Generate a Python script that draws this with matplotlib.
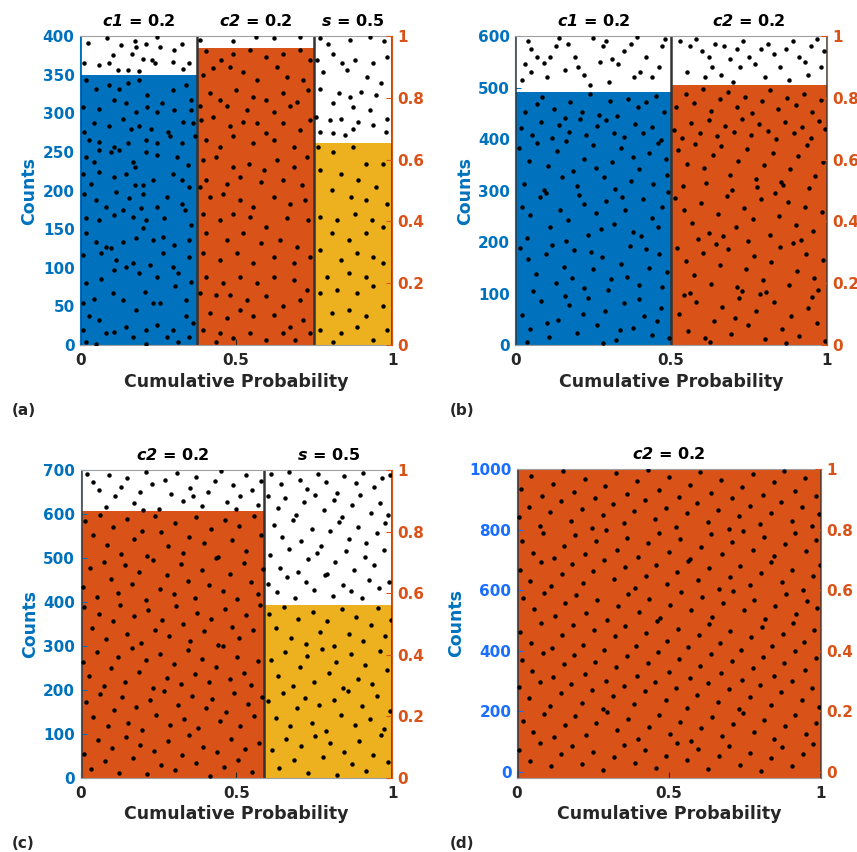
import numpy as np
import matplotlib.pyplot as plt

plt.rcParams['font.family'] = 'DejaVu Sans'
plt.rcParams['font.weight'] = 'bold'
plt.rcParams['mathtext.fontset'] = 'dejavusans'

BLUE = '#0072BD'
ORANGE = '#D95319'
YELLOW = '#EDB120'
DARK = '#262626'

# ---- data -------------------------------------------------------------
# segment edges on the cumulative probability axis, bar heights in counts
edges_a = [0, 0.375, 0.75, 1]
heights_a = [350, 385, 262]
colors_a = [BLUE, ORANGE, YELLOW]
titles_a = [r'$\mathbfit{c1}$ = 0.2', r'$\mathbfit{c2}$ = 0.2', r'$\mathbfit{s}$ = 0.5']

edges_b = [0, 0.5, 1]
heights_b = [492, 505]
colors_b = [BLUE, ORANGE]
titles_b = [r'$\mathbfit{c1}$ = 0.2', r'$\mathbfit{c2}$ = 0.2']

edges_c = [0, 0.59, 1]
heights_c = [606, 393]
colors_c = [ORANGE, YELLOW]
titles_c = [r'$\mathbfit{c2}$ = 0.2', r'$\mathbfit{s}$ = 0.5']

edges_d = [0, 1]
heights_d = [1000]
colors_d = [ORANGE]
titles_d = [r'$\mathbfit{c2}$ = 0.2']

dots_a = [
    (.025, 391), (.086, 398), (.13, 388), (.175, 394), (.18, 386), (.21, 390), (.23, 369), (.20, 370),
    (.255, 386), (.30, 382), (.325, 390), (.105, 375), (.094, 365), (.062, 362), (.014, 365), (.12, 356),
    (.153, 356), (.19, 355), (.298, 367), (.33, 357), (.35, 365), (.24, 365), (.165, 377), (.245, 399),
    (.385, 395), (.565, 399), (.62, 398), (.705, 399), (.49, 393),
    (.77, 397), (.795, 390), (.865, 395), (.93, 399), (.975, 393), (.76, 369), (.81, 377), (.84, 365),
    (.88, 369), (.94, 365), (.985, 373), (.78, 354), (.855, 356), (.92, 347), (.965, 339), (.77, 332),
    (.83, 326), (.865, 321), (.90, 328), (.95, 324), (.81, 313), (.875, 308), (.93, 304), (.985, 293),
    (.755, 295), (.80, 291), (.835, 293), (.89, 289), (.94, 285), (.77, 276), (.81, 274), (.85, 272),
    (.98, 276), (.875, 280),
    (.02, 343), (.05, 332), (.094, 337), (.126, 332), (.153, 339), (.19, 343), (.215, 324), (.263, 313),
    (.298, 330), (.34, 337), (.357, 317), (.009, 308), (.062, 306), (.11, 317), (.148, 313), (.18, 302),
    (.245, 302), (.30, 304), (.357, 304), (.213, 308),
    (.014, 276), (.046, 287), (.094, 283), (.137, 293), (.164, 280), (.19, 283), (.228, 280), (.282, 276),
    (.33, 289), (.362, 287), (.03, 265), (.062, 263), (.11, 257), (.153, 261), (.212, 265), (.245, 261),
    (.287, 270), (.325, 261), (.367, 270), (.062, 252),
    (.02, 244), (.046, 237), (.10, 250), (.126, 252), (.17, 237), (.212, 250), (.245, 246), (.309, 244),
    (.346, 233), (.009, 222), (.062, 224), (.11, 218), (.148, 222), (.175, 231), (.234, 214), (.298, 222),
    (.325, 214), (.035, 209), (.175, 207), (.20, 207), (.35, 205),
    (.014, 196), (.05, 188), (.116, 198), (.157, 190), (.20, 196), (.277, 192), (.325, 183), (.084, 179),
    (.137, 175), (.196, 177), (.245, 179), (.335, 175), (.02, 164), (.062, 162), (.11, 168), (.17, 166),
    (.212, 162), (.27, 164), (.357, 155), (.20, 151),
    (.02, 145), (.05, 134), (.10, 125), (.137, 134), (.18, 138), (.234, 136), (.265, 140), (.30, 129),
    (.35, 136), (.009, 116), (.068, 119), (.116, 110), (.17, 106), (.223, 104), (.265, 119), (.298, 101),
    (.35, 114), (.084, 127),
    (.02, 80), (.068, 86), (.11, 97), (.148, 101), (.19, 93), (.245, 88), (.314, 93), (.357, 82),
    (.046, 60), (.105, 67), (.137, 58), (.207, 69), (.255, 54), (.303, 76), (.34, 58), (.009, 54), (.234, 54),
    (.03, 37), (.062, 32), (.11, 17), (.148, 24), (.18, 45), (.212, 19), (.245, 26), (.277, 11),
    (.314, 4), (.34, 37), (.362, 28), (.02, 4), (.05, 2), (.084, 15), (.17, 11), (.212, 2), (.298, 19),
    (.35, 11), (.009, 19),
    (.405, 380), (.45, 369), (.49, 377), (.545, 382), (.597, 373), (.65, 377), (.705, 382), (.737, 369),
    (.394, 350), (.427, 358), (.48, 360), (.523, 354), (.566, 343), (.63, 360), (.663, 347), (.716, 343),
    (.415, 326), (.448, 317), (.50, 330), (.555, 321), (.597, 317), (.65, 326), (.695, 315), (.732, 330),
    (.383, 309), (.47, 309), (.534, 304), (.62, 302), (.673, 309),
    (.389, 291), (.427, 295), (.48, 283), (.523, 289), (.566, 287), (.597, 274), (.65, 287), (.705, 278),
    (.737, 291), (.405, 265), (.448, 257), (.49, 270), (.555, 261), (.62, 265), (.684, 257), (.394, 239),
    (.437, 244), (.49, 231), (.54, 235), (.59, 227), (.63, 239), (.684, 231), (.727, 244), (.405, 214),
    (.47, 209), (.513, 218), (.58, 211), (.65, 214), (.71, 207), (.383, 205),
    (.415, 192), (.457, 196), (.513, 188), (.555, 179), (.62, 192), (.673, 183), (.72, 188), (.394, 170),
    (.448, 162), (.49, 170), (.545, 166), (.597, 153), (.663, 164), (.732, 162), (.405, 145), (.47, 136),
    (.523, 145), (.58, 132), (.64, 136), (.695, 127), (.394, 119), (.448, 110), (.502, 119), (.555, 106),
    (.62, 114), (.684, 106), (.737, 114),
    (.405, 88), (.457, 80), (.513, 88), (.566, 80), (.62, 88), (.684, 84), (.727, 71), (.383, 67),
    (.437, 65), (.48, 65), (.534, 58), (.597, 63), (.65, 50), (.705, 58), (.415, 41), (.47, 35),
    (.513, 45), (.555, 37), (.62, 39), (.673, 24), (.716, 32), (.394, 19), (.448, 15), (.49, 9),
    (.545, 15), (.597, 6), (.65, 15), (.69, 6), (.737, 15), (.437, 4),
    (.764, 257), (.81, 250), (.875, 257), (.918, 235), (.97, 235), (.77, 226), (.835, 222), (.892, 214),
    (.95, 205), (.808, 201), (.867, 192), (.915, 188), (.985, 183), (.77, 166), (.825, 162), (.88, 170),
    (.935, 162), (.97, 153), (.808, 145), (.861, 136), (.915, 145), (.77, 123), (.835, 110), (.888, 119),
    (.94, 114), (.79, 88), (.861, 93), (.918, 88), (.97, 106), (.77, 67), (.825, 71), (.888, 67),
    (.94, 76), (.808, 41), (.861, 45), (.915, 37), (.97, 50), (.77, 19), (.835, 15), (.888, 24),
    (.94, 6), (.985, 19), (.81, 4),
]

dots_b = [
    (.04, 590), (.05, 575), (.07, 560), (.03, 545), (.05, 530), (.02, 515), (.09, 548), (.11, 560),
    (.13, 580), (.14, 597), (.17, 585), (.19, 560), (.20, 540), (.22, 525), (.24, 505), (.27, 550),
    (.28, 580), (.29, 590), (.31, 555), (.33, 545), (.35, 570), (.37, 585), (.39, 598), (.40, 530),
    (.42, 560), (.44, 520), (.46, 540), (.47, 580), (.48, 595), (.10, 520), (.16, 535), (.38, 520),
    (.25, 597), (.30, 510),
    (.53, 590), (.56, 580), (.58, 595), (.60, 570), (.62, 560), (.64, 585), (.67, 580), (.69, 555),
    (.71, 575), (.73, 590), (.75, 560), (.77, 545), (.79, 575), (.81, 585), (.83, 565), (.85, 540),
    (.87, 575), (.89, 590), (.91, 560), (.93, 550), (.95, 580), (.97, 595), (.99, 570), (.55, 530),
    (.61, 520), (.66, 525), (.72, 540), (.80, 520), (.88, 515), (.94, 525), (.98, 540), (.63, 540), (.70, 510),
    (.03, 452), (.07, 468), (.085, 481), (.125, 458), (.158, 441), (.176, 472), (.214, 452), (.238, 487),
    (.268, 447), (.302, 473), (.327, 444), (.361, 478), (.394, 462), (.418, 471), (.452, 484), (.476, 452),
    (.018, 421), (.052, 407), (.083, 433), (.117, 402), (.139, 428), (.172, 413), (.207, 438), (.228, 408),
    (.263, 426), (.291, 437), (.318, 412), (.347, 404), (.384, 429), (.409, 411), (.437, 424), (.468, 398),
    (.012, 382), (.043, 357), (.068, 392), (.104, 348), (.132, 377), (.163, 396), (.186, 338), (.221, 362),
    (.249, 388), (.283, 327), (.311, 356), (.338, 383), (.372, 318), (.397, 342), (.428, 372), (.459, 392),
    (.487, 331), (.027, 313), (.093, 302), (.148, 327), (.198, 308), (.258, 343), (.321, 303), (.379, 366),
    (.441, 313), (.482, 362),
    (.021, 268), (.048, 252), (.079, 287), (.112, 229), (.143, 263), (.168, 242), (.203, 291), (.232, 214),
    (.257, 256), (.292, 279), (.318, 236), (.353, 262), (.376, 219), (.408, 284), (.437, 246), (.469, 268),
    (.038, 208), (.097, 296), (.161, 203), (.219, 274), (.276, 226), (.341, 288), (.402, 211), (.457, 229),
    (.491, 298),
    (.014, 188), (.041, 167), (.066, 138), (.098, 176), (.129, 121), (.157, 152), (.188, 184), (.219, 111),
    (.248, 147), (.277, 171), (.306, 128), (.338, 158), (.367, 192), (.396, 117), (.428, 149), (.461, 177),
    (.488, 141), (.057, 104), (.118, 194), (.181, 131), (.242, 181), (.297, 106), (.359, 133), (.418, 186),
    (.472, 112),
    (.022, 58), (.047, 31), (.082, 86), (.107, 16), (.137, 49), (.172, 77), (.198, 24), (.233, 91),
    (.262, 38), (.287, 66), (.323, 9), (.348, 81), (.377, 34), (.413, 56), (.438, 19), (.467, 72),
    (.036, 6), (.102, 43), (.158, 96), (.217, 61), (.281, 4), (.337, 29), (.398, 89), (.456, 46), (.493, 14),
    (.515, 462), (.548, 488), (.572, 470), (.603, 497), (.628, 455), (.657, 478), (.684, 491), (.712, 463),
    (.738, 482), (.761, 450), (.792, 474), (.818, 496), (.843, 458), (.871, 479), (.902, 466), (.927, 487),
    (.953, 452), (.981, 475),
    (.508, 418), (.536, 402), (.563, 432), (.592, 411), (.621, 437), (.648, 405), (.673, 426), (.702, 414),
    (.729, 438), (.757, 407), (.783, 429), (.811, 416), (.838, 401), (.866, 433), (.893, 412), (.921, 424),
    (.948, 403), (.976, 436), (.993, 419),
    (.522, 378), (.551, 352), (.577, 391), (.606, 343), (.634, 369), (.661, 386), (.689, 331), (.716, 358),
    (.744, 381), (.771, 322), (.798, 349), (.826, 373), (.853, 317), (.881, 342), (.908, 367), (.936, 389),
    (.963, 329), (.989, 356), (.537, 309), (.611, 314), (.694, 302), (.777, 306), (.859, 311), (.943, 304),
    (.512, 286), (.541, 262), (.568, 237), (.597, 276), (.623, 218), (.652, 254), (.679, 289), (.708, 229),
    (.735, 266), (.763, 244), (.789, 283), (.817, 213), (.846, 251), (.874, 277), (.901, 234), (.929, 268),
    (.956, 221), (.984, 259), (.586, 206), (.667, 212), (.748, 203), (.832, 296), (.918, 204),
    (.519, 189), (.547, 163), (.574, 137), (.601, 178), (.629, 119), (.656, 155), (.683, 186), (.711, 112),
    (.739, 148), (.766, 172), (.794, 127), (.821, 161), (.849, 191), (.877, 116), (.904, 144), (.932, 176),
    (.959, 131), (.987, 166), (.561, 102), (.643, 197), (.726, 104), (.806, 103), (.891, 198), (.971, 107),
    (.526, 61), (.553, 27), (.581, 83), (.609, 14), (.636, 47), (.664, 74), (.691, 22), (.719, 92),
    (.746, 39), (.774, 66), (.802, 11), (.829, 84), (.857, 31), (.884, 57), (.912, 18), (.939, 71),
    (.967, 42), (.994, 8), (.541, 97), (.624, 5), (.704, 53), (.786, 99), (.868, 4), (.951, 93),
]

dots_c = [
    (.02, 690), (.04, 672), (.06, 655), (.09, 688), (.11, 640), (.13, 662), (.15, 682), (.17, 625),
    (.19, 650), (.21, 695), (.23, 668), (.25, 612), (.27, 678), (.29, 645), (.31, 692), (.33, 630),
    (.35, 660), (.37, 685), (.39, 618), (.41, 650), (.43, 675), (.45, 697), (.47, 628), (.49, 665),
    (.51, 640), (.53, 688), (.55, 655), (.57, 620), (.58, 675), (.08, 615), (.20, 610), (.36, 640), (.50, 612),
    (.612, 690), (.643, 668), (.668, 695), (.704, 678), (.727, 657), (.762, 691), (.788, 673), (.823, 648),
    (.846, 686), (.884, 671), (.907, 694), (.943, 662), (.968, 681), (.992, 688),
    (.603, 641), (.634, 613), (.657, 636), (.692, 598), (.718, 627), (.753, 644), (.781, 609), (.812, 632),
    (.838, 594), (.872, 621), (.898, 642), (.931, 603), (.962, 626), (.988, 597),
    (.622, 574), (.648, 548), (.683, 586), (.709, 538), (.744, 566), (.771, 528), (.801, 561), (.828, 582),
    (.862, 544), (.889, 571), (.917, 533), (.952, 556), (.978, 579),
    (.607, 506), (.641, 478), (.668, 521), (.697, 468), (.731, 497), (.758, 511), (.792, 463), (.818, 491),
    (.853, 516), (.879, 473), (.912, 502), (.941, 484), (.973, 519),
    (.601, 441), (.629, 423), (.661, 456), (.688, 408), (.723, 446), (.749, 428), (.783, 461), (.809, 414),
    (.842, 439), (.868, 424), (.903, 409), (.927, 451), (.958, 431), (.991, 446),
    (.015, 585), (.038, 552), (.061, 598), (.083, 530), (.104, 571), (.129, 510), (.148, 588), (.172, 543),
    (.196, 562), (.214, 505), (.238, 596), (.259, 558), (.281, 527), (.304, 580), (.327, 512), (.349, 547),
    (.371, 592), (.395, 534), (.418, 566), (.441, 503), (.462, 587), (.486, 541), (.509, 572), (.531, 516),
    (.556, 595), (.578, 553),
    (.008, 435), (.029, 478), (.052, 412), (.076, 491), (.097, 452), (.121, 420), (.143, 483), (.166, 441),
    (.187, 467), (.211, 404), (.233, 496), (.254, 430), (.277, 461), (.299, 419), (.322, 486), (.344, 447),
    (.366, 409), (.389, 472), (.412, 438), (.433, 499), (.457, 425), (.479, 464), (.502, 407), (.524, 489),
    (.547, 445), (.569, 418), (.585, 476),
    (.012, 388), (.035, 341), (.058, 372), (.081, 315), (.103, 356), (.126, 394), (.149, 328), (.171, 367),
    (.193, 306), (.216, 381), (.239, 337), (.262, 358), (.284, 322), (.306, 391), (.329, 349), (.352, 311),
    (.374, 376), (.396, 333), (.419, 362), (.442, 302), (.464, 385), (.487, 344), (.509, 318), (.532, 371),
    (.554, 336), (.577, 392),
    (.006, 263), (.028, 231), (.051, 287), (.074, 208), (.096, 249), (.119, 274), (.141, 219), (.164, 296),
    (.186, 241), (.209, 268), (.231, 205), (.254, 282), (.276, 227), (.299, 258), (.321, 213), (.344, 291),
    (.366, 236), (.389, 271), (.411, 217), (.434, 252), (.456, 299), (.479, 224), (.501, 276), (.524, 238),
    (.546, 211), (.569, 265),
    (.018, 172), (.041, 138), (.063, 191), (.086, 117), (.108, 155), (.131, 183), (.153, 126), (.176, 162),
    (.198, 108), (.221, 177), (.243, 143), (.266, 198), (.288, 121), (.311, 166), (.333, 134), (.356, 187),
    (.378, 113), (.401, 158), (.423, 179), (.446, 129), (.468, 151), (.491, 194), (.513, 118), (.536, 169),
    (.558, 141), (.581, 185),
    (.009, 54), (.032, 21), (.054, 87), (.077, 38), (.099, 69), (.122, 12), (.144, 93), (.167, 46),
    (.189, 76), (.212, 8), (.234, 61), (.257, 29), (.279, 84), (.302, 17), (.324, 52), (.347, 97),
    (.369, 33), (.392, 71), (.414, 5), (.437, 58), (.459, 24), (.482, 89), (.504, 41), (.527, 66),
    (.549, 14), (.572, 79),
    (.605, 372), (.628, 341), (.652, 389), (.675, 318), (.698, 361), (.722, 305), (.745, 378), (.768, 332),
    (.791, 356), (.815, 301), (.838, 384), (.861, 327), (.884, 365), (.908, 311), (.931, 348), (.954, 386),
    (.977, 322), (.995, 358),
    (.611, 268), (.634, 231), (.657, 286), (.681, 209), (.704, 252), (.727, 277), (.75, 218), (.774, 294),
    (.797, 239), (.82, 263), (.843, 204), (.867, 281), (.89, 226), (.913, 257), (.936, 213), (.96, 289),
    (.983, 245),
    (.603, 174), (.626, 136), (.649, 193), (.673, 117), (.696, 158), (.719, 181), (.742, 125), (.766, 166),
    (.789, 106), (.812, 178), (.835, 142), (.859, 197), (.882, 121), (.905, 163), (.928, 133), (.952, 186),
    (.975, 112), (.993, 152),
    (.614, 64), (.637, 23), (.66, 88), (.684, 41), (.707, 72), (.73, 11), (.753, 95), (.777, 47),
    (.80, 79), (.823, 7), (.846, 58), (.87, 31), (.893, 84), (.916, 16), (.939, 53), (.963, 97), (.986, 36),
]

dots_d = [
    (.012, 935), (.047, 978), (.083, 912), (.118, 951), (.151, 992), (.189, 925), (.222, 967), (.258, 903),
    (.291, 944), (.327, 986), (.362, 918), (.394, 959), (.431, 997), (.466, 931), (.499, 972), (.534, 908),
    (.568, 948), (.603, 989), (.637, 921), (.672, 962), (.706, 904), (.741, 941), (.775, 983), (.81, 915),
    (.844, 956), (.879, 994), (.913, 928), (.948, 969), (.982, 911),
    (.007, 842), (.041, 876), (.076, 813), (.109, 859), (.144, 894), (.179, 827), (.213, 868), (.248, 805),
    (.282, 849), (.317, 883), (.351, 821), (.386, 862), (.42, 897), (.455, 834), (.489, 871), (.524, 809),
    (.558, 853), (.593, 888), (.627, 824), (.662, 865), (.696, 802), (.731, 845), (.765, 879), (.80, 817),
    (.834, 856), (.869, 891), (.903, 829), (.938, 873), (.972, 812), (.995, 851),
    (.018, 761), (.053, 724), (.087, 789), (.122, 707), (.156, 746), (.191, 781), (.225, 718), (.26, 763),
    (.294, 798), (.329, 731), (.363, 772), (.398, 709), (.432, 754), (.467, 787), (.501, 726), (.536, 768),
    (.57, 703), (.605, 741), (.639, 784), (.674, 719), (.708, 759), (.743, 794), (.777, 733), (.812, 776),
    (.846, 712), (.881, 751), (.915, 789), (.95, 728), (.984, 766),
    (.009, 668), (.044, 631), (.078, 694), (.113, 612), (.147, 653), (.182, 687), (.216, 624), (.251, 662),
    (.285, 699), (.32, 637), (.354, 676), (.389, 608), (.423, 648), (.458, 684), (.492, 621), (.527, 659),
    (.561, 696), (.596, 633), (.63, 672), (.665, 604), (.699, 643), (.734, 681), (.768, 617), (.803, 657),
    (.837, 692), (.872, 628), (.906, 666), (.941, 601), (.975, 646), (.996, 683),
    (.021, 574), (.056, 538), (.09, 592), (.125, 516), (.159, 557), (.194, 583), (.228, 524), (.263, 566),
    (.297, 503), (.332, 547), (.366, 588), (.401, 529), (.435, 571), (.47, 509), (.504, 552), (.539, 594),
    (.573, 533), (.608, 576), (.642, 512), (.677, 558), (.711, 597), (.746, 536), (.78, 569), (.815, 506),
    (.849, 548), (.884, 586), (.918, 521), (.953, 563), (.987, 541),
    (.011, 462), (.046, 427), (.08, 491), (.115, 408), (.149, 452), (.184, 486), (.218, 419), (.253, 468),
    (.287, 403), (.322, 447), (.356, 482), (.391, 416), (.425, 458), (.46, 497), (.494, 432), (.529, 471),
    (.563, 411), (.598, 453), (.632, 489), (.667, 424), (.701, 465), (.736, 402), (.77, 444), (.805, 479),
    (.839, 414), (.874, 456), (.908, 493), (.943, 429), (.977, 469),
    (.016, 371), (.05, 334), (.085, 392), (.119, 313), (.154, 356), (.188, 387), (.223, 322), (.257, 364),
    (.292, 301), (.326, 346), (.361, 383), (.395, 318), (.43, 359), (.464, 396), (.499, 331), (.533, 374),
    (.568, 309), (.602, 351), (.637, 389), (.671, 326), (.706, 367), (.74, 304), (.775, 342), (.809, 379),
    (.844, 315), (.878, 361), (.913, 398), (.947, 337), (.982, 376),
    (.006, 281), (.04, 243), (.075, 296), (.109, 219), (.144, 262), (.178, 289), (.213, 227), (.247, 271),
    (.282, 206), (.316, 252), (.351, 284), (.385, 223), (.42, 266), (.454, 298), (.489, 238), (.523, 277),
    (.558, 212), (.592, 255), (.627, 292), (.661, 231), (.696, 273), (.73, 208), (.765, 247), (.799, 286),
    (.834, 221), (.868, 264), (.903, 299), (.937, 236), (.972, 278), (.994, 215),
    (.019, 168), (.053, 132), (.088, 191), (.122, 114), (.157, 155), (.191, 183), (.226, 121), (.26, 162),
    (.295, 197), (.329, 138), (.364, 176), (.398, 109), (.433, 149), (.467, 187), (.502, 126), (.536, 165),
    (.571, 103), (.605, 144), (.64, 181), (.674, 119), (.709, 158), (.743, 194), (.778, 131), (.812, 172),
    (.847, 107), (.881, 151), (.916, 189), (.95, 124), (.985, 163),
    (.008, 73), (.043, 36), (.077, 94), (.112, 18), (.146, 59), (.181, 84), (.215, 27), (.25, 66),
    (.284, 5), (.319, 48), (.353, 89), (.388, 31), (.422, 71), (.457, 12), (.491, 54), (.526, 97),
    (.56, 38), (.595, 77), (.629, 9), (.664, 51), (.698, 86), (.733, 24), (.767, 63), (.802, 3),
    (.836, 45), (.871, 81), (.905, 21), (.94, 58), (.974, 92),
]

panels = [
    dict(edges=edges_a, heights=heights_a, colors=colors_a, titles=titles_a, dots=dots_a,
         ylim=(0, 400), yticks=np.arange(0, 401, 50), pos=[0.0935, 0.595, 0.364, 0.3627],
         tagpos=(0.014, 0.513), label='(a)', tickcolor=BLUE),
    dict(edges=edges_b, heights=heights_b, colors=colors_b, titles=titles_b, dots=dots_b,
         ylim=(0, 600), yticks=np.arange(0, 601, 100), pos=[0.6015, 0.595, 0.3633, 0.3627],
         tagpos=(0.525, 0.513), label='(b)', tickcolor=BLUE),
    dict(edges=edges_c, heights=heights_c, colors=colors_c, titles=titles_c, dots=dots_c,
         ylim=(0, 700), yticks=np.arange(0, 701, 100), pos=[0.0942, 0.0869, 0.3633, 0.3615],
         tagpos=(0.014, 0.005), label='(c)', tickcolor=BLUE),
    dict(edges=edges_d, heights=heights_d, colors=colors_d, titles=titles_d, dots=dots_d,
         ylim=(-20, 1000), yticks=np.arange(0, 1001, 200), pos=[0.6033, 0.0869, 0.3547, 0.3627],
         tagpos=(0.525, 0.005), label='(d)', tickcolor='#1A6EFF'),
]

fig = plt.figure(figsize=(8.57, 8.52), dpi=100)

for p in panels:
    ax = fig.add_axes(p['pos'])
    edges = p['edges']
    lo, hi = p['ylim']
    for i, h in enumerate(p['heights']):
        ax.bar(edges[i], h - lo, width=edges[i + 1] - edges[i], bottom=lo, align='edge',
               color=p['colors'][i], linewidth=0, zorder=1)
        ax.text((edges[i] + edges[i + 1]) / 2, hi + 0.022 * (hi - lo), p['titles'][i],
                ha='center', va='bottom', fontsize=11.5, fontweight='bold', color='black')
    for e in edges:
        ax.axvline(e, color='#333333', lw=1.8, zorder=2)
    xs = [d[0] for d in p['dots']]
    ys = [d[1] for d in p['dots']]
    ax.plot(xs, ys, 'o', color='black', ms=3.2, mew=0, zorder=3)

    ax.set_xlim(0, 1)
    ax.set_ylim(lo, hi)
    ax.set_xticks([0, 0.5, 1])
    ax.set_xticklabels(['0', '0.5', '1'])
    ax.set_yticks(p['yticks'])
    ax.set_yticklabels([str(v) for v in p['yticks']])
    ax.tick_params(axis='x', colors=DARK, labelsize=11, direction='in', length=4, pad=6)
    ax.tick_params(axis='y', colors=p['tickcolor'], labelsize=11, direction='in', length=4, pad=4)
    for lab in ax.get_xticklabels() + ax.get_yticklabels():
        lab.set_fontweight('bold')
    ax.set_xlabel('Cumulative Probability', fontsize=12.5, fontweight='bold', color=DARK, labelpad=3)
    ax.set_ylabel('Counts', fontsize=12.5, fontweight='bold', color=BLUE, labelpad=3)
    ax.spines['top'].set_color('#A0A0A0')
    ax.spines['bottom'].set_color('#A0A0A0')
    ax.spines['left'].set_color(BLUE)
    ax.spines['right'].set_visible(False)

    ax2 = ax.twinx()
    ax2.set_ylim(lo / hi, 1.0)
    ax2.set_yticks([0, 0.2, 0.4, 0.6, 0.8, 1])
    ax2.set_yticklabels(['0', '0.2', '0.4', '0.6', '0.8', '1'])
    ax2.tick_params(axis='y', colors=ORANGE, labelsize=11, direction='in', length=4, pad=4)
    for lab in ax2.get_yticklabels():
        lab.set_fontweight('bold')
    ax2.spines['right'].set_color(ORANGE)
    for s in ['top', 'bottom', 'left']:
        ax2.spines[s].set_visible(False)

    fig.text(p['tagpos'][0], p['tagpos'][1], p['label'], fontsize=11, fontweight='bold', color=DARK)

fig.savefig('out.png', dpi=100)
